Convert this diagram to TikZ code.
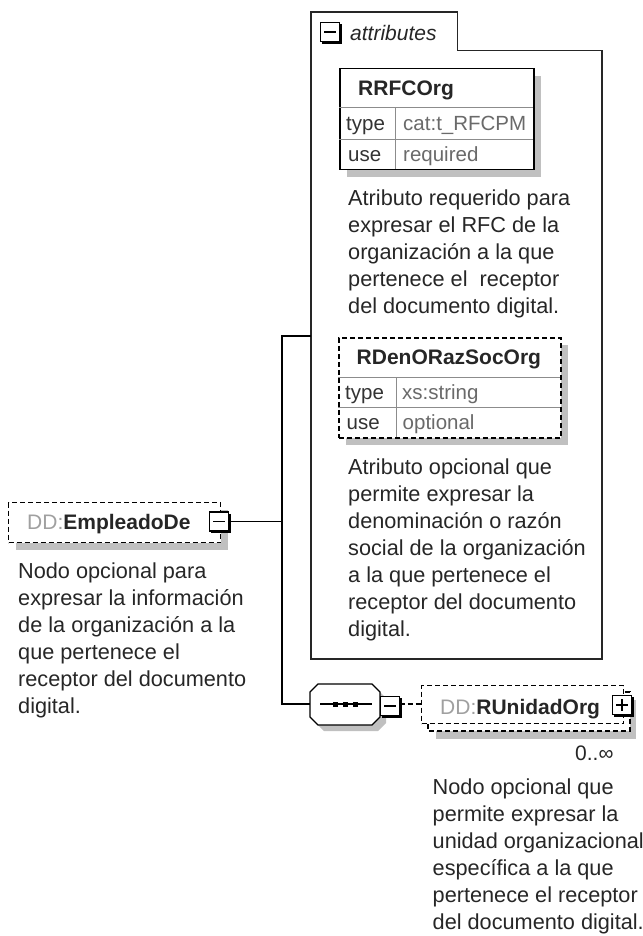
\documentclass[tikz,border=0pt]{standalone}
\usepackage{fontspec}
\setmainfont{Liberation Sans}
\usetikzlibrary{calc}
\definecolor{shadowgrey}{HTML}{C0C0C0}
\definecolor{ddgrey}{HTML}{A0A0A0}
\definecolor{valgrey}{HTML}{6A6A6A}
\definecolor{linegrey}{HTML}{8C8C8C}
\begin{document}
\begin{tikzpicture}[x=1pt,y=-1pt,
  conn/.style={line width=1.3pt, draw=black},
  dsh/.style={dash pattern=on 5pt off 3pt},
  shad/.style={fill=shadowgrey, draw=none},
  btn/.style={draw=black, line width=1.3pt, fill=white, minimum width=19pt, minimum height=19pt, inner sep=0pt, outer sep=0pt},
  desc/.style={anchor=north west, inner sep=0pt, align=left, font=\fontsize{21.7}{27}\selectfont, text=black!85},
  lab/.style={anchor=base west, inner sep=0pt, font=\fontsize{21}{25}\selectfont, text=black!85},
  cell/.style={anchor=base west, inner sep=0pt, font=\fontsize{20.5}{25}\selectfont, text=black!80},
  val/.style={cell, text=valgrey},
  ]
\useasboundingbox (0,0) rectangle (642,936);

% ---------------- attributes container ----------------
\draw[line width=1.5pt, draw=black!85] (311,659) -- (311,12) -- (457.5,12) -- (457.5,50.5) -- (602,50.5) -- (602,659) -- cycle;
\coordinate (attrL) at (311,336);
\node[btn] (btnA) at (330,32) {};
\node[lab, font=\fontsize{21}{25}\selectfont\itshape] (attrtab) at (350,40.5) {attributes};

% RRFCOrg table
\fill[shad] (347,76) rectangle (541,177);
\node[draw=black, line width=1.5pt, fill=white, minimum width=194pt, minimum height=101pt, inner sep=0pt, anchor=north west] (rrfc) at (339,68) {};
\draw[linegrey, line width=1pt] (339,108) -- (533,108) (339,140) -- (533,140) (395,108) -- (395,169);
\node[lab, font=\fontsize{21}{25}\selectfont\bfseries] (rrfcT) at (358,96) {RRFCOrg};
\node[cell] (rrfcTy) at (346,131) {type};
\node[val] (rrfcTyV) at (403,131) {cat:t\_RFCPM};
\node[cell] (rrfcU) at (348,161.5) {use};
\node[val] (rrfcUV) at (403,161.5) {required};

\node[desc] (rrfcD) at (348,190) {Atributo requerido para\\expresar el RFC de la\\organización a la que\\pertenece el~ receptor\\del documento digital.};

% RDenORazSocOrg table
\fill[shad] (346,345) rectangle (568,445);
\node[draw=black, dsh, line width=1.5pt, fill=white, minimum width=222pt, minimum height=100pt, inner sep=0pt, anchor=north west] (rden) at (338,337) {};
\draw[linegrey, line width=1pt] (338,377) -- (560,377) (338,407) -- (560,407) (396,377) -- (396,437);
\node[lab, font=\fontsize{21}{25}\selectfont\bfseries] (rdenT) at (356.5,364.5) {RDenORazSocOrg};
\node[cell] (rdenTy) at (345,399) {type};
\node[val] (rdenTyV) at (402,399) {xs:string};
\node[cell] (rdenU) at (346.5,429) {use};
\node[val] (rdenUV) at (402.5,429) {optional};

\node[desc] (rdenD) at (348,459) {Atributo opcional que\\permite expresar la\\denominación o razón\\social de la organización\\a la que pertenece el\\receptor del documento\\digital.};

% ---------------- EmpleadoDe ----------------
\fill[shad] (16,510) rectangle (228,550);
\node[draw=black, dsh, line width=1.3pt, fill=white, minimum width=212pt, minimum height=40pt, inner sep=0pt, anchor=north west] (emp) at (8,502) {};
\node[lab] (empL) at (27,529.5) {\textcolor{ddgrey}{DD:}\textbf{EmpleadoDe}};
\node[btn] (btnE) at (219,521.5) {};
\node[desc] (empD) at (18,563) {Nodo opcional para\\expresar la información\\de la organización a la\\que pertenece el\\receptor del documento\\digital.};

% ---------------- sequence ----------------
\node[minimum width=70pt, minimum height=41pt, inner sep=0pt, anchor=west] (seq) at (310,704.5) {};
\fill[shad] (316,698) -- (324,690) -- (378,690) -- (386,698) -- (386,723) -- (378,731) -- (324,731) -- (316,723) -- cycle;
\draw[line width=1.3pt, fill=white] (310,692) -- (318,684) -- (372,684) -- (380,692) -- (380,717) -- (372,725) -- (318,725) -- (310,717) -- cycle;
\draw[line width=1.3pt] (320,704) -- (372,704);
\foreach \xx in {335.5,345,355.5} \fill (\xx-2.5,701.5) rectangle (\xx+2.5,706.5);
\node[btn] (btnS) at (390,706) {};

% ---------------- RUnidadOrg ----------------
\fill[shad] (436,700) rectangle (636,739);
\draw[dsh, line width=1.3pt, fill=white] (428,692) rectangle (630,731);
\node[draw=black, dsh, line width=1.3pt, fill=white, minimum width=202pt, minimum height=38pt, inner sep=0pt, anchor=north west] (runi) at (421,685) {};
\node[lab] (runiL) at (440,714.5) {\textcolor{ddgrey}{DD:}\textbf{RUnidadOrg}};
\node[btn] (btnP) at (622,705) {};
\node[lab] (mult) at (575,760) {0..∞};
\node[desc] (runiD) at (432.5,779) {Nodo opcional que\\permite expresar la\\unidad organizacional\\específica a la que\\pertenece el receptor\\del documento digital.};

% ---------------- buttons decoration ----------------
\foreach \b in {btnA,btnE,btnS,btnP}{
  \draw[line width=2.4pt] ($(\b.north east)+(1.2,1.8)$) -- ($(\b.south east)+(1.2,1.2)$) -- ($(\b.south west)+(1.8,1.2)$);
  \draw[line width=1.4pt] ($(\b.west)+(3.5,0)$) -- ($(\b.east)+(-3.5,0)$);
}
\draw[line width=1.4pt] ($(btnP.north)+(0,3.5)$) -- ($(btnP.south)+(0,-3.5)$);

% ---------------- connectors ----------------
\coordinate (jt) at (282,336);
\coordinate (jb) at (282,704);
\draw[conn] (btnE.east |- 0,521.5) -- (282,521.5);
\draw[conn] (attrL) -- (jt) -- (jb) -- (seq.west |- jb);
\draw[conn, dsh] (btnS.east |- jb) -- (runi.west |- jb);
\end{tikzpicture}
\end{document}
